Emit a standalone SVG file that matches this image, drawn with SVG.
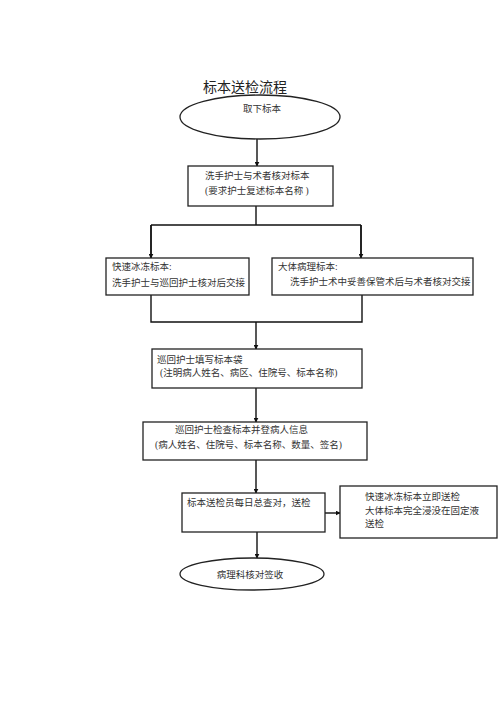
<svg xmlns="http://www.w3.org/2000/svg" width="500" height="708" viewBox="0 0 500 708">
<style>
.box{fill:#fff;stroke:#222;stroke-width:1.3}
.t{font-family:"Liberation Serif","Noto Sans CJK SC",serif;font-size:9.5px;fill:#333}
.ln{fill:none;stroke:#111;stroke-width:1.4}
</style>
<defs>
<marker id="ah" viewBox="0 0 8 8" refX="7" refY="4" markerWidth="5" markerHeight="5" orient="auto" markerUnits="userSpaceOnUse">
<path d="M0,0 L8,4 L0,8 z" fill="#111"/>
</marker>
</defs>
<rect width="500" height="708" fill="#fff"/>
<text x="203" y="92" style="font-family:'Noto Sans CJK SC',sans-serif;font-size:14px;fill:#222">标本送检流程</text>
<g id="connectors">
<path class="ln" d="M257,139 V166" marker-end="url(#ah)"/>
<path class="ln" d="M256,206 V225 M151,225 H361 M151,225 V258 M361,225 V258"/>
<path class="ln" d="M151,225 V258" marker-end="url(#ah)"/>
<path class="ln" d="M361,225 V258" marker-end="url(#ah)"/>
<path class="ln" d="M151,295 V322 H362 V295"/>
<path class="ln" d="M256,322 V349" marker-end="url(#ah)"/>
<path class="ln" d="M256,388 V422" marker-end="url(#ah)"/>
<path class="ln" d="M256,460 V493" marker-end="url(#ah)"/>
<path class="ln" d="M325,513 H340" marker-end="url(#ah)"/>
<path class="ln" d="M257,532 V558" marker-end="url(#ah)"/>
</g>
<g id="n1">
<ellipse cx="260" cy="117" rx="80" ry="22" class="box"/>
<text x="262" y="112" text-anchor="middle" class="t">取下标本</text>
</g>
<g id="n2">
<rect x="188" y="166" width="145" height="40" class="box"/>
<text x="205" y="179" class="t">洗手护士与术者核对标本</text>
<text x="205" y="194" class="t">(要求护士复述标本名称  )</text>
</g>
<g id="n3">
<rect x="106" y="258" width="143" height="37" class="box"/>
<text x="112" y="270" class="t">快速冰冻标本:</text>
<text x="112" y="286" class="t">洗手护士与巡回护士核对后交接</text>
</g>
<g id="n4">
<rect x="272" y="258" width="201" height="37" class="box"/>
<text x="278" y="270" class="t">大体病理标本:</text>
<text x="290" y="285" class="t">洗手护士术中妥善保管术后与术者核对交接</text>
</g>
<g id="n5">
<rect x="152" y="349" width="210" height="39" class="box"/>
<text x="157" y="363" class="t">巡回护士填写标本袋</text>
<text x="160" y="376" class="t">(注明病人姓名、病区、住院号、标本名称)</text>
</g>
<g id="n6">
<rect x="143" y="422" width="224" height="38" class="box"/>
<text x="175" y="433" class="t">巡回护士检查标本并登病人信息</text>
<text x="155" y="448" class="t">(病人姓名、住院号、标本名称、数量、签名)</text>
</g>
<g id="n7">
<rect x="182" y="493" width="143" height="39" class="box"/>
<text x="187" y="506" class="t">标本送检员每日总查对，送检</text>
</g>
<g id="n8">
<rect x="340" y="486" width="157" height="52" class="box"/>
<text x="365" y="500" class="t">快速冰冻标本立即送检</text>
<text x="365" y="514" class="t">大体标本完全浸没在固定液</text>
<text x="365" y="527" class="t">送检</text>
</g>
<g id="n9">
<ellipse cx="252" cy="574" rx="72" ry="16" class="box"/>
<text x="250" y="578" text-anchor="middle" class="t">病理科核对签收</text>
</g>
</svg>
